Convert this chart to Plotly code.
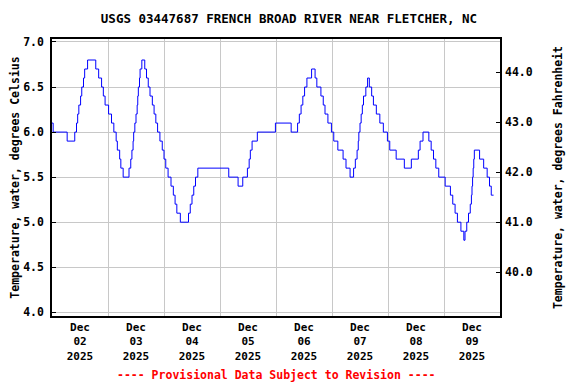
import plotly.graph_objects as go
import pandas as pd

title = "USGS 03447687 FRENCH BROAD RIVER NEAR FLETCHER, NC"
footer = "---- Provisional Data Subject to Revision ----"
left_title = "Temperature, water, degrees Celsius"
right_title = "Temperature, water, degrees Fahrenheit"

# change points of the step series: hours after 2025-12-02 00:00 and value (deg C)
hours = [0, 0.5, 6.5, 9.75, 10.5, 11.0, 11.5, 12.25, 12.75, 13.5, 14.0, 15.25,
         18.75, 20.0, 21.25, 22.0, 22.75, 24.25, 25.5, 26.5, 27.5, 28.0, 29.0, 29.5,
         30.5, 33.0, 33.75, 34.25, 34.75, 35.0, 35.5, 36.0, 36.5, 36.75, 37.0, 37.5,
         37.75, 38.5, 39.75, 40.5, 41.25, 42.0, 43.0, 43.75, 44.5, 45.25, 46.25, 47.25,
         48.0, 48.75, 49.75, 51.0, 52.0, 52.75, 53.5, 55.0, 58.5, 59.25, 60.0, 60.75,
         61.5, 62.5, 75.75, 79.75, 81.75, 83.75, 84.5, 85.0, 85.75, 88.0, 95.75, 102.5,
         105.25, 106.0, 106.75, 107.5, 108.25, 109.25, 111.25, 112.75, 113.5, 115.25,
         116.25, 117.0, 118.25, 119.75, 120.75, 122.5, 124.75, 126.0, 127.75, 129.25,
         130.0, 130.75, 131.25, 131.5, 132.0, 132.5, 133.0, 133.5, 134.5, 135.25, 136.0,
         137.0, 137.75, 139.0, 140.5, 142.0, 143.75, 144.75, 147.5, 151.0, 154.0, 157.0,
         157.75, 159.0, 161.5, 162.5, 163.5, 164.5, 165.75, 168.5, 170.75, 171.75,
         172.75, 173.75, 175.25, 176.5, 177.0, 177.75, 178.5, 179.25, 179.75, 180.0,
         180.25, 180.5, 180.75, 181.0, 183.25, 185.0, 186.5, 187.5, 188.25, 189.25]
temps_c = [6.1, 6.0, 5.9, 6.0, 6.1, 6.2, 6.3, 6.4, 6.5, 6.6, 6.7, 6.8,
           6.7, 6.6, 6.5, 6.4, 6.3, 6.2, 6.1, 6.0, 5.9, 5.8, 5.7, 5.6,
           5.5, 5.6, 5.7, 5.8, 5.9, 6.0, 6.1, 6.2, 6.3, 6.4, 6.5, 6.6,
           6.7, 6.8, 6.7, 6.6, 6.5, 6.4, 6.3, 6.2, 6.1, 6.0, 5.9, 5.8,
           5.7, 5.6, 5.5, 5.4, 5.3, 5.2, 5.1, 5.0, 5.1, 5.2, 5.3, 5.4,
           5.5, 5.6, 5.5, 5.4, 5.5, 5.6, 5.7, 5.8, 5.9, 6.0, 6.1, 6.0,
           6.1, 6.2, 6.3, 6.4, 6.5, 6.6, 6.7, 6.6, 6.5, 6.4,
           6.3, 6.2, 6.1, 6.0, 5.9, 5.8, 5.7, 5.6, 5.5, 5.6,
           5.7, 5.8, 5.9, 6.0, 6.1, 6.2, 6.3, 6.4, 6.5, 6.6, 6.5,
           6.4, 6.3, 6.2, 6.1, 6.0, 5.9, 5.8, 5.7, 5.6, 5.7, 5.8,
           5.9, 6.0, 5.9, 5.8, 5.7, 5.6, 5.5, 5.4, 5.3, 5.2,
           5.1, 5.0, 4.9, 4.8, 4.9, 5.0, 5.1, 5.2, 5.3, 5.4,
           5.5, 5.6, 5.7, 5.8, 5.7, 5.6, 5.5, 5.4, 5.3, 5.3]

day_labels = ["Dec<br>02<br>2025", "Dec<br>03<br>2025", "Dec<br>04<br>2025",
              "Dec<br>05<br>2025", "Dec<br>06<br>2025", "Dec<br>07<br>2025",
              "Dec<br>08<br>2025", "Dec<br>09<br>2025"]
day_starts = ["2025-12-02", "2025-12-03", "2025-12-04", "2025-12-05",
              "2025-12-06", "2025-12-07", "2025-12-08", "2025-12-09", "2025-12-10"]
left_ticks = [4.0, 4.5, 5.0, 5.5, 6.0, 6.5, 7.0]
right_ticks = [40.0, 41.0, 42.0, 43.0, 44.0]

start = pd.Timestamp(day_starts[0])
times = [start + pd.Timedelta(hours=h) for h in hours]
noons = [pd.Timestamp(d) + pd.Timedelta(hours=12) for d in day_starts[:-1]]
temps_f = [c * 1.8 + 32 for c in temps_c]

yr = [3.959, 7.033]
yr_f = [v * 1.8 + 32 for v in yr]

# the page body has an 8px default margin, so the figure is offset by 8px
OFF = 8
W, H = 576 - OFF, 384 - OFF
FONT = "DejaVu Sans Mono"
fig = go.Figure()
fig.add_trace(go.Scatter(x=times, y=temps_c, mode="lines", line=dict(color="#0000ff", width=1, shape="hv"),
                         showlegend=False, hoverinfo="skip"))
fig.add_trace(go.Scatter(x=times, y=temps_f, mode="lines", line=dict(color="rgba(0,0,0,0)", width=1, shape="hv"),
                         yaxis="y2", showlegend=False, hoverinfo="skip"))

fig.update_layout(
    width=W, height=H,
    margin=dict(l=52 - OFF, r=76, t=39 - OFF, b=68, autoexpand=False),
    paper_bgcolor="white", plot_bgcolor="white",
    font=dict(family=FONT, size=11.5, color="black", weight="bold"),
    title=dict(text=title, x=(289 - OFF) / W, xanchor="center", y=1 - (19 - OFF) / H, yanchor="middle",
               automargin=False, font=dict(family=FONT, size=12.5, color="black", weight="bold")),
    xaxis=dict(
        type="date", range=[day_starts[0], day_starts[-1]], automargin=False,
        tickmode="array", tickvals=noons, ticktext=day_labels,
        showgrid=False, ticks="", showline=True, linecolor="black", linewidth=1.5, mirror=True,
        minor=dict(tickmode="array", tickvals=day_starts, showgrid=True, gridcolor="#c8c8c8", gridwidth=1, ticks=""),
        tickfont=dict(family=FONT, size=11, color="black", weight="bold"),
        zeroline=False,
    ),
    yaxis=dict(
        range=yr, tickmode="array", tickvals=left_ticks, ticktext=[f"{v:.1f}" for v in left_ticks],
        showgrid=True, gridcolor="#c8c8c8", gridwidth=1, automargin=False,
        ticks="inside", ticklen=4, tickcolor="black", ticklabelstandoff=4,
        showline=True, linecolor="black", linewidth=1.5, mirror=True, zeroline=False,
        title=dict(text=left_title, standoff=8, font=dict(family=FONT, size=11.5, weight="bold")),
        tickfont=dict(family=FONT, size=11.5, color="black", weight="bold"),
    ),
    yaxis2=dict(
        overlaying="y", side="right", range=yr_f, automargin=False,
        tickmode="array", tickvals=right_ticks, ticktext=[f"{v:.1f}" for v in right_ticks],
        showgrid=False, ticks="inside", ticklen=4, tickcolor="black", ticklabelstandoff=4,
        showline=False, zeroline=False,
        title=dict(text=right_title, standoff=22, font=dict(family=FONT, size=11.5, weight="bold")),
        tickfont=dict(family=FONT, size=11.5, color="black", weight="bold"),
    ),
)
plot_h = H - (39 - OFF) - 68
fig.add_annotation(text=footer, xref="paper", yref="paper", x=0.5, y=-(375 - 316) / plot_h,
                   xanchor="center", yanchor="middle", showarrow=False,
                   font=dict(family=FONT, size=11.5, color="red", weight="bold"))

fig.write_html("out.html")
